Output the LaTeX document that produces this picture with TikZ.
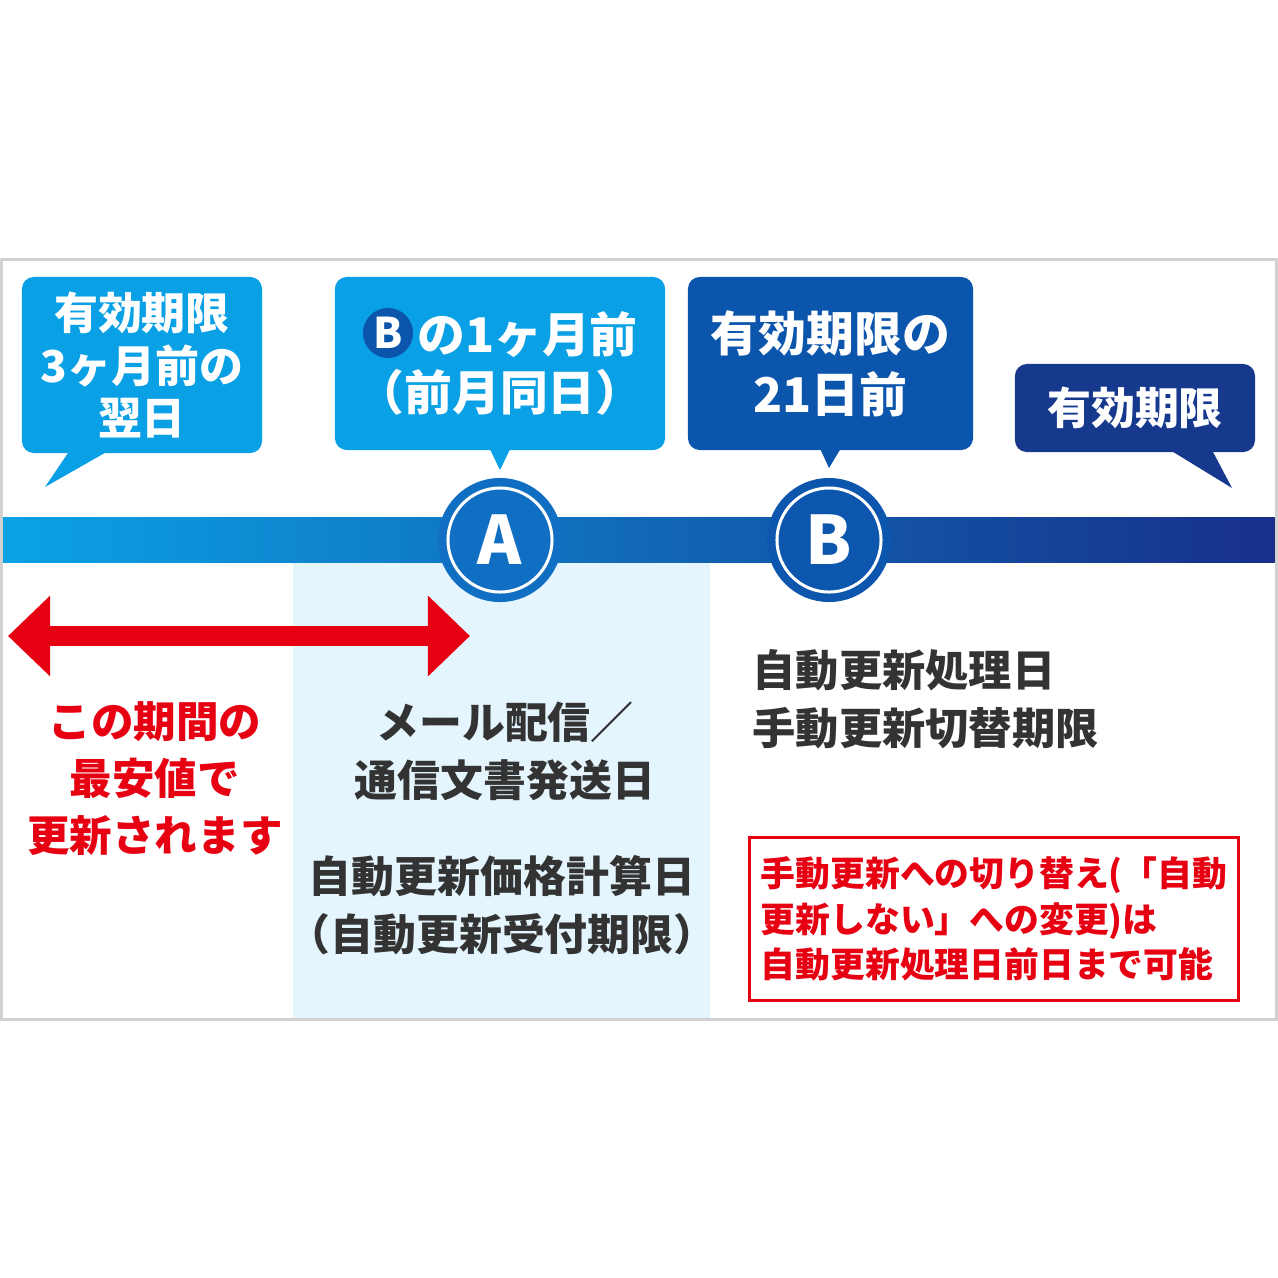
\documentclass[tikz,border=0pt]{standalone}
\usepackage{fontspec}
\setmainfont{Noto Sans CJK JP}
\usetikzlibrary{arrows.meta,positioning}
\definecolor{bublight}{HTML}{0AA0E6}
\definecolor{bubmid}{HTML}{0B55AD}
\definecolor{bubdark}{HTML}{16398D}
\definecolor{barleft}{HTML}{0BA2E6}
\definecolor{barmid}{HTML}{0C6BC0}
\definecolor{barright}{HTML}{172F88}
\definecolor{markA}{HTML}{106FC3}
\definecolor{markB}{HTML}{0D56AE}
\definecolor{band}{HTML}{E4F5FD}
\definecolor{alert}{HTML}{E60012}
\definecolor{ink}{HTML}{333333}

\begin{document}
\begin{tikzpicture}[x=0.01cm, y=-0.01cm,
    bubble/.style={rectangle, rounded corners=3.4pt, fill=#1, text=white,
                   align=center, inner sep=0pt, font=\bfseries},
    marker/.style={circle, minimum size=1.04cm, inner sep=0pt, fill=#1,
                   draw=white, line width=0.03cm,
                   preaction={draw=#1, line width=0.2cm},
                   text=white, font=\bfseries\fontsize{19}{19}\selectfont},
    note/.style={align=center, inner sep=0pt, font=\bfseries},
    redarrow/.style={alert, line width=0.2cm,
                   {Triangle[length=0.42cm, width=0.78cm]}-{Triangle[length=0.42cm, width=0.78cm]}}
  ]
  \useasboundingbox (0,0) rectangle (1278,1278);

  % band and timeline
  \fill[band] (293,562) rectangle (710,1018);
  \shade[left color=barleft, middle color=barmid, right color=barright]
    (3,517) rectangle (1275,562);

  \node[marker=markA] (circA) at (500,540) {A};
  \node[marker=markB] (circB) at (829,540) {B};

  % callouts
  \node[bubble=bublight, minimum width=2.4cm, minimum height=1.76cm,
        font=\bfseries\fontsize{12.5}{14.9}\selectfont] (callStart) at (142,365)
    {有効期限\\3ヶ月前の\\翌日};
  \node[bubble=bublight, minimum width=3.3cm, minimum height=1.73cm,
        font=\bfseries\fontsize{13.6}{16.5}\selectfont] (callA) at (500,363.5)
    {\hspace*{0.55cm}の1ヶ月前\\（前月同日）};
  \node[circle, fill=bubmid, minimum size=0.5cm, inner sep=0pt, text=white,
        font=\bfseries\fontsize{12}{12}\selectfont] (miniB) at (388,333) {B};
  \node[bubble=bubmid, minimum width=2.85cm, minimum height=1.73cm,
        font=\bfseries\fontsize{13.6}{17.4}\selectfont] (callB) at (830.5,363.5)
    {有効期限の\\21日前};
  \node[bubble=bubdark, minimum width=2.4cm, minimum height=0.88cm,
        font=\bfseries\fontsize{12.5}{14}\selectfont] (callEnd) at (1135,408)
    {有効期限};

  \coordinate (tipStart) at (45,487);
  \coordinate (tipA) at (500,470);
  \coordinate (tipB) at (829,468);
  \coordinate (tipEnd) at (1232,488);
  \fill[bublight] (70,450) -- (tipStart) -- (110,450) -- cycle;
  \fill[bublight] ([xshift=-0.11cm, yshift=1pt]callA.south) -- (tipA)
    -- ([xshift=0.11cm, yshift=1pt]callA.south) -- cycle;
  \fill[bubmid] ([xshift=-0.11cm, yshift=1pt]callB.south) -- (tipB)
    -- ([xshift=0.11cm, yshift=1pt]callB.south) -- cycle;
  \fill[bubdark] (1170,450) -- (tipEnd) -- (1212,450) -- cycle;

  % period arrow
  \coordinate (arrL) at (8,636);
  \coordinate (arrR) at (470,636);
  \draw[redarrow] (arrL) -- (arrR);

  % texts
  \node[note, text=alert, font=\bfseries\fontsize{12.1}{16.2}\selectfont] (cheap) at (155,779)
    {この期間の\\最安値で\\更新されます};
  \node[note, text=ink, font=\bfseries\fontsize{12.2}{16.5}\selectfont] (mail) at (505,751)
    {メール配信／\\通信文書発送日};
  \node[note, text=ink, font=\bfseries\fontsize{12.2}{16.5}\selectfont] (calc) at (502,905)
    {自動更新価格計算日\\（自動更新受付期限）};
  \node[note, text=ink, align=left, anchor=west,
        font=\bfseries\fontsize{12.3}{16.5}\selectfont] (proc) at (752,699)
    {自動更新処理日\\手動更新切替期限};
  \node[draw=alert, line width=0.03cm, minimum width=4.88cm, minimum height=1.62cm,
        align=left, text=alert, inner sep=0pt,
        font=\bfseries\fontsize{9.9}{13}\selectfont] (warn) at (994,919)
    {手動更新への切り替え(「自動\\更新しない」への変更)は\\自動更新処理日前日まで可能};

  % frame
  \draw[black!18, line width=0.03cm] (1.5,259) rectangle (1276.5,1019);
\end{tikzpicture}
\end{document}
